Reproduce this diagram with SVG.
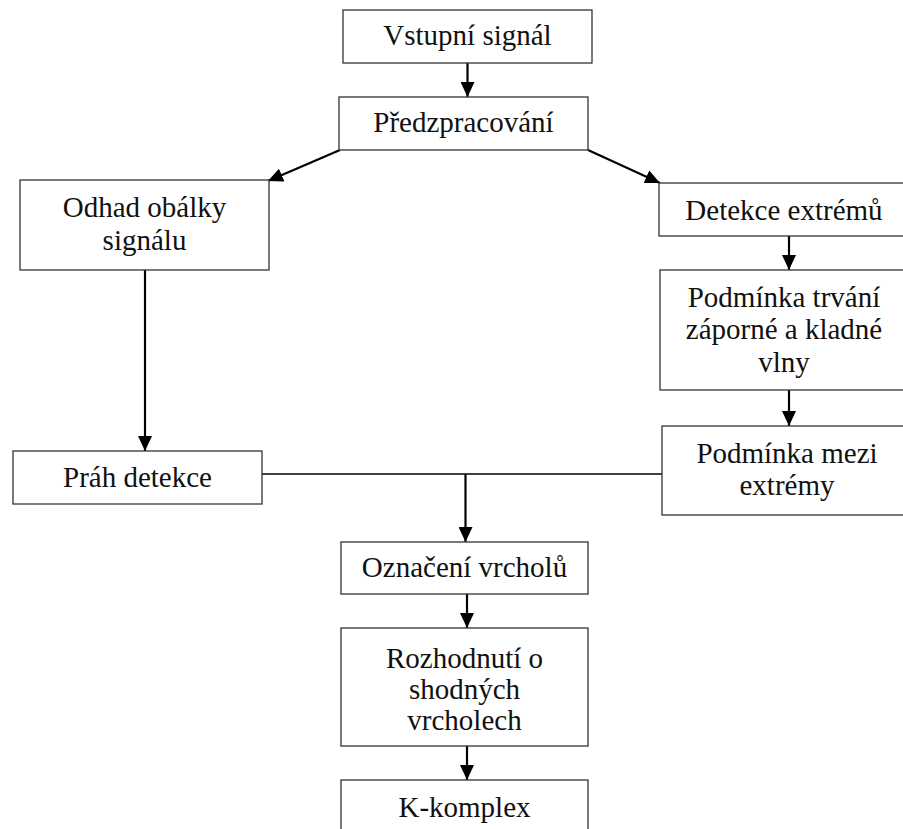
<svg xmlns="http://www.w3.org/2000/svg" width="903" height="829" viewBox="0 0 903 829">
<style>
.box{fill:#fff;stroke:#333;stroke-width:1.3}
.t{font-family:"Liberation Serif","Times New Roman",serif;font-size:29px;fill:#111;text-anchor:middle}
.c{fill:none;stroke:#000;stroke-width:2.2}
.l{fill:none;stroke:#000;stroke-width:1.3}
</style>
<defs>
<marker id="ah" markerUnits="userSpaceOnUse" markerWidth="16" markerHeight="14" refX="15" refY="7" orient="auto">
<path d="M0,0 L15,7 L0,14 Z" fill="#000"/>
</marker>
</defs>
<rect width="903" height="829" fill="#fff"/>
<g id="connectors">
<line class="c" x1="467.5" y1="63" x2="467.5" y2="97" marker-end="url(#ah)"/>
<line class="c" x1="340" y1="150" x2="268" y2="181" marker-end="url(#ah)"/>
<line class="c" x1="588" y1="150" x2="660" y2="183" marker-end="url(#ah)"/>
<line class="c" x1="145" y1="270" x2="145" y2="451" marker-end="url(#ah)"/>
<line class="c" x1="789" y1="236" x2="789" y2="270" marker-end="url(#ah)"/>
<line class="c" x1="789" y1="390" x2="789" y2="426" marker-end="url(#ah)"/>
<line class="l" x1="262" y1="474" x2="662" y2="474"/>
<line class="c" x1="465.5" y1="474" x2="465.5" y2="542" marker-end="url(#ah)"/>
<line class="c" x1="467" y1="594" x2="467" y2="628" marker-end="url(#ah)"/>
<line class="c" x1="467" y1="746" x2="467" y2="780" marker-end="url(#ah)"/>
</g>
<g id="vstup"><rect class="box" x="343" y="10" width="249" height="53"/><text class="t" x="467.5" y="45">Vstupní signál</text></g>
<g id="predzpracovani"><rect class="box" x="339" y="97" width="249" height="53"/><text class="t" x="463.5" y="131.5">Předzpracování</text></g>
<g id="odhad"><rect class="box" x="20" y="180" width="249" height="90"/><text class="t" x="144.5" y="217">Odhad obálky</text><text class="t" x="144.5" y="250">signálu</text></g>
<g id="detekce"><rect class="box" x="659" y="183" width="250" height="53"/><text class="t" x="784" y="220">Detekce extrémů</text></g>
<g id="podminka-trvani"><rect class="box" x="660" y="270" width="250" height="120"/><text class="t" x="784" y="307">Podmínka trvání</text><text class="t" x="784" y="339">záporné a kladné</text><text class="t" x="784" y="372">vlny</text></g>
<g id="podminka-mezi"><rect class="box" x="662" y="426" width="250" height="89"/><text class="t" x="787" y="463">Podmínka mezi</text><text class="t" x="787" y="495">extrémy</text></g>
<g id="prah"><rect class="box" x="13" y="451" width="249" height="53"/><text class="t" x="137.5" y="487">Práh detekce</text></g>
<g id="oznaceni"><rect class="box" x="341" y="542" width="247" height="52"/><text class="t" x="464.5" y="577">Označení vrcholů</text></g>
<g id="rozhodnuti"><rect class="box" x="341" y="628" width="247" height="118"/><text class="t" x="464.5" y="668">Rozhodnutí o</text><text class="t" x="464.5" y="699">shodných</text><text class="t" x="464.5" y="730">vrcholech</text></g>
<g id="kkomplex"><rect class="box" x="341" y="780" width="247" height="60"/><text class="t" x="464.5" y="817">K-komplex</text></g>
</svg>
